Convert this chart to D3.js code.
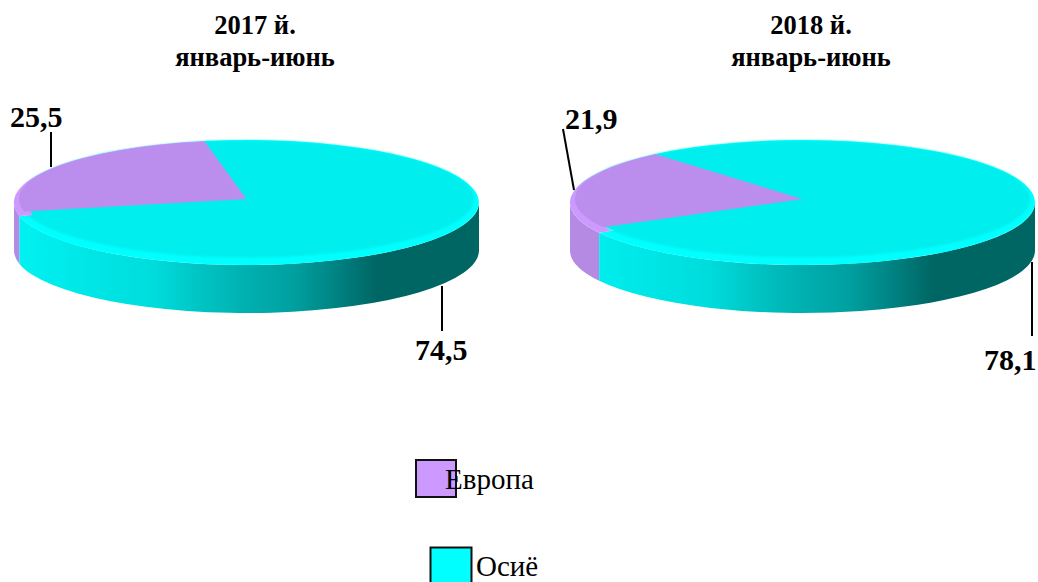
<!DOCTYPE html>
<html>
<head>
<meta charset="utf-8">
<script src="https://cdn.jsdelivr.net/npm/d3@7"></script>
<style>
  html, body { margin: 0; padding: 0; background: #fff; overflow: hidden; }
  text { font-family: "Liberation Serif", serif; fill: #000; }
</style>
</head>
<body>
<script>
// Data
const categories = ["Европа", "Осиё"];
const values2017 = [25.5, 74.5];
const values2018 = [21.9, 78.1];
const titles2017 = ["2017 й.", "январь-июнь"];
const titles2018 = ["2018 й.", "январь-июнь"];
const valueLabels2017 = ["25,5", "74,5"];
const valueLabels2018 = ["21,9", "78,1"];

const w = 1038;
const h = 582;
const rx = 232.5;
const ry = 62.5;
const depth = 48;
const rad = d3.scaleLinear().domain([0, 360]).range([0, 2 * Math.PI]);

const topColor = ["#bb8eee", "#00eeee"];
const rimColor = ["#cc99ff", "#00ffff"];
const legendColor = ["#cc99ff", "#00ffff"];
const wallStops = [[0, "#00f2f2"], [0.3, "#00dcdc"], [0.4, "#00c4c4"], [0.5, "#00b0b0"], [0.6, "#00a0a0"], [0.7, "#008080"], [0.78, "#006664"], [1, "#006664"]];
const rimStops = [[0, "#00ffff"], [0.58, "#00ffff"], [0.68, "#00c4c4"], [0.8, "#007c7a"], [1, "#006664"]];

const svg = d3.select("body").append("svg")
  .attr("width", w)
  .attr("height", h)
  .style("display", "block");

const defs = svg.append("defs");
defs.append("filter").attr("id", "soft")
  .append("feGaussianBlur").attr("stdDeviation", 0.9);

// Horizontal shading, from the pie's left edge to its right edge
function addGradient(id, stops, cx) {
  const g = defs.append("linearGradient").attr("id", id)
    .attr("gradientUnits", "userSpaceOnUse")
    .attr("x1", cx - rx).attr("x2", cx + rx).attr("y1", 0).attr("y2", 0);
  stops.forEach(s => g.append("stop").attr("offset", s[0]).attr("stop-color", s[1]));
}

function drawPie(values, cx, startDeg, id) {
  const cy = 202.5;
  const pie = d3.pie().sort(null).value(d => d)
    .startAngle(rad(startDeg)).endAngle(rad(startDeg + 360));
  const arcs = pie(values);
  const pt = (a, yy) => [cx + rx * Math.sin(a), yy - ry * Math.cos(a)];
  const g = svg.append("g");

  addGradient("wall" + id, wallStops, cx);
  addGradient("rim" + id, rimStops, cx);

  // wall: only the part of each slice that faces the viewer
  arcs.forEach((d, i) => {
    [0, 2 * Math.PI].forEach(shift => {
      const a0 = Math.max(d.startAngle + shift, Math.PI / 2);
      const a1 = Math.min(d.endAngle + shift, 3 * Math.PI / 2);
      if (a1 <= a0) return;
      const p0 = pt(a0, cy), p1 = pt(a1, cy);
      const b0 = pt(a0, cy + depth), b1 = pt(a1, cy + depth);
      g.append("path")
        .attr("d", `M${p0}A${rx},${ry} 0 0 1 ${p1}L${b1}A${rx},${ry} 0 0 0 ${b0}Z`)
        .attr("fill", i === 0 ? "#b48ae2" : `url(#wall${id})`);
    });
  });

  const unit = d3.arc().innerRadius(0).outerRadius(1);
  const outerTransform = `translate(${cx},${cy}) scale(${rx},${ry})`;
  const topTransform = `translate(${cx},${cy - 3.5}) scale(${rx - 5},${ry - 4})`;

  // rim: lit on the left, falling into the wall on the right
  g.append("path").attr("d", unit(arcs[1]))
    .attr("transform", outerTransform)
    .attr("fill", `url(#rim${id})`);

  // top face, a little smaller and pushed up so the rim shows along the front.
  // Whole disc is blurred into the rim, the small slice stays crisp on top.
  g.append("g").attr("filter", "url(#soft)")
    .append("path")
    .attr("transform", topTransform)
    .attr("d", unit({ startAngle: 0, endAngle: 2 * Math.PI }))
    .attr("fill", topColor[1]);

  // small slice: a band of rim first so no cyan halo is left around it
  g.append("path")
    .attr("transform", outerTransform)
    .attr("d", d3.arc().innerRadius(0.94).outerRadius(1)(arcs[0]))
    .attr("fill", rimColor[0]);
  g.append("path")
    .attr("transform", topTransform)
    .attr("d", unit(arcs[0]))
    .attr("fill", topColor[0]);
}

function drawTitle(lines, x) {
  svg.append("text")
    .attr("text-anchor", "middle")
    .attr("font-size", 26.5)
    .attr("font-weight", "bold")
    .selectAll("tspan").data(lines).enter().append("tspan")
    .attr("x", x)
    .attr("y", (d, i) => 34 + i * 32)
    .text(d => d);
}

function drawLabel(text, x, y) {
  svg.append("text").attr("x", x).attr("y", y)
    .attr("font-size", 30).attr("font-weight", "bold").text(text);
}

function drawLeader(x1, y1, x2, y2) {
  svg.append("line")
    .attr("x1", x1).attr("y1", y1).attr("x2", x2).attr("y2", y2)
    .attr("stroke", "#000").attr("stroke-width", 2);
}

drawPie(values2017, 246.5, -102.4, "a");
drawPie(values2018, 802.5, -119, "b");

drawTitle(titles2017, 255);
drawTitle(titles2018, 811);

drawLeader(51, 132, 51, 167);
drawLeader(442, 286, 442, 331);
drawLeader(563, 129, 574, 190);
drawLeader(1032, 262, 1032, 336);

drawLabel(valueLabels2017[0], 10, 127);
drawLabel(valueLabels2017[1], 415, 360);
drawLabel(valueLabels2018[0], 565, 129);
drawLabel(valueLabels2018[1], 984, 370);

// Legend
svg.append("rect").attr("x", 416).attr("y", 460).attr("width", 40).attr("height", 37)
  .attr("fill", legendColor[0]).attr("stroke", "#111").attr("stroke-width", 2);
svg.append("rect").attr("x", 430.5).attr("y", 547.5).attr("width", 41).attr("height", 40)
  .attr("fill", legendColor[1]).attr("stroke", "#111").attr("stroke-width", 2);
svg.append("text").attr("x", 445).attr("y", 489).attr("font-size", 29).text(categories[0]);
svg.append("text").attr("x", 476).attr("y", 576).attr("font-size", 29).text(categories[1]);
</script>
</body>
</html>
